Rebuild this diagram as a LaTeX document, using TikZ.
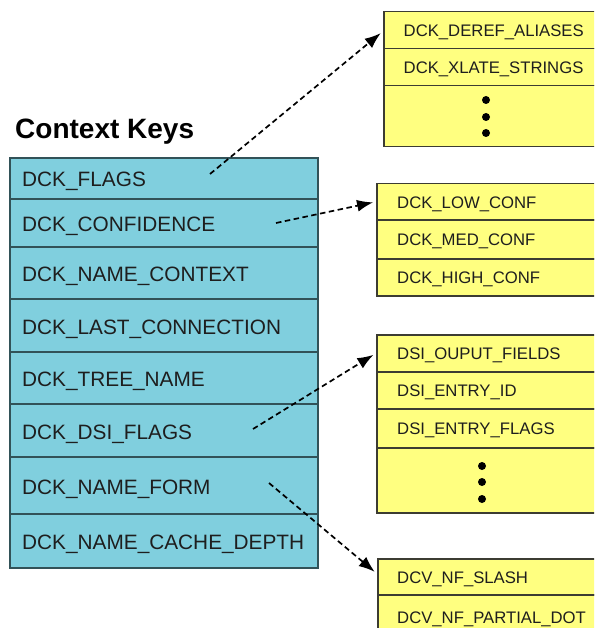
\documentclass[tikz,border=0pt]{standalone}
\usepackage{fontspec}
\setmainfont{Liberation Sans}
\usetikzlibrary{arrows.meta}
\definecolor{cyanfill}{RGB}{128,207,222}
\definecolor{cyanline}{RGB}{50,82,88}
\definecolor{yellowfill}{RGB}{255,255,128}
\definecolor{yline}{RGB}{60,60,50}
\definecolor{txt}{RGB}{30,30,30}
\begin{document}
\begin{tikzpicture}[x=1pt,y=-1pt,
  lrow/.style={draw=cyanline,line width=2.2pt,fill=cyanfill,anchor=north west,
    inner sep=0pt,minimum width=308pt},
  rrow/.style={draw=yline,line width=1.5pt,fill=yellowfill,anchor=north west,
    inner sep=0pt,minimum width=260pt},
  ltext/.style={anchor=base west,inner sep=0pt,text=txt,font=\fontsize{20.8}{24}\selectfont},
  rtext/.style={anchor=base west,inner sep=0pt,text=txt,font=\fontsize{16.7}{20}\selectfont},
  link/.style={line width=1.7pt,dash pattern=on 5.5pt off 3.5pt,
    -{Latex[length=16pt,width=12pt]},shorten >=3pt},
  dotc/.style={fill=black}
]
\useasboundingbox (0,0) rectangle (594,628);
\clip (0,0) rectangle (594,628);

\node[anchor=base west,inner sep=0pt,font=\bfseries\fontsize{28}{30}\selectfont] (title) at (15,139) {Context Keys};

% left table
\node[lrow,minimum height=41pt] (k1) at (9,157) {};
\node[lrow,minimum height=48pt] (k2) at (9,198) {};
\node[lrow,minimum height=52pt] (k3) at (9,246) {};
\node[lrow,minimum height=53pt] (k4) at (9,298) {};
\node[lrow,minimum height=52pt] (k5) at (9,351) {};
\node[lrow,minimum height=53pt] (k6) at (9,403) {};
\node[lrow,minimum height=57pt] (k7) at (9,456) {};
\node[lrow,minimum height=54pt] (k8) at (9,513) {};
\node[ltext] (t1) at ([xshift=13pt,yshift=-7.8pt]k1.west) {DCK\_FLAGS};
\node[ltext] (t2) at ([xshift=13pt,yshift=-8.6pt]k2.west) {DCK\_CONFIDENCE};
\node[ltext] (t3) at ([xshift=13pt,yshift=-8.6pt]k3.west) {DCK\_NAME\_CONTEXT};
\node[ltext] (t4) at ([xshift=13pt,yshift=-9pt]k4.west) {DCK\_LAST\_CONNECTION};
\node[ltext] (t5) at ([xshift=13pt,yshift=-8.6pt]k5.west) {DCK\_TREE\_NAME};
\node[ltext] (t6) at ([xshift=13pt,yshift=-8.6pt]k6.west) {DCK\_DSI\_FLAGS};
\node[ltext] (t7) at ([xshift=13pt,yshift=-8.6pt]k7.west) {DCK\_NAME\_FORM};
\node[ltext] (t8) at ([xshift=13pt,yshift=-8.6pt]k8.west) {DCK\_NAME\_CACHE\_DEPTH};

% table 1
\node[rrow,minimum height=37pt] (a1) at (383,11) {};
\node[rrow,minimum height=37pt] (a2) at (383,48) {};
\node[rrow,minimum height=61pt] (a3) at (383,85) {};
\node[rtext] (ta1) at ([xshift=20.5pt,yshift=-6.5pt]a1.west) {DCK\_DEREF\_ALIASES};
\node[rtext] (ta2) at ([xshift=20.5pt,yshift=-6.5pt]a2.west) {DCK\_XLATE\_STRINGS};
\fill[dotc] (486,100) circle (4pt) (486,117) circle (4pt) (486,133) circle (4pt);

% table 2
\node[rrow,minimum height=36pt] (b1) at (376,183) {};
\node[rrow,minimum height=39pt] (b2) at (376,219) {};
\node[rrow,minimum height=37pt] (b3) at (376,258) {};
\node[rtext] (tb1) at ([xshift=21pt,yshift=-6.3pt]b1.west) {DCK\_LOW\_CONF};
\node[rtext] (tb2) at ([xshift=21pt,yshift=-6.3pt]b2.west) {DCK\_MED\_CONF};
\node[rtext] (tb3) at ([xshift=21pt,yshift=-6.3pt]b3.west) {DCK\_HIGH\_CONF};

% table 3
\node[rrow,minimum height=37pt] (c1) at (376,334) {};
\node[rrow,minimum height=37pt] (c2) at (376,371) {};
\node[rrow,minimum height=39pt] (c3) at (376,408) {};
\node[rrow,minimum height=65pt] (c4) at (376,447) {};
\node[rtext] (tc1) at ([xshift=21pt,yshift=-6.3pt]c1.west) {DSI\_OUPUT\_FIELDS};
\node[rtext] (tc2) at ([xshift=21pt,yshift=-6.3pt]c2.west) {DSI\_ENTRY\_ID};
\node[rtext] (tc3) at ([xshift=21pt,yshift=-6.3pt]c3.west) {DSI\_ENTRY\_FLAGS};
\fill[dotc] (482,466) circle (4pt) (482,482) circle (4pt) (482,499) circle (4pt);

% table 4
\node[rrow,minimum height=36pt] (d1) at (377,558) {};
\node[rrow,minimum height=40pt] (d2) at (377,594) {};
\node[rtext] (td1) at ([xshift=20pt,yshift=-6.8pt]d1.west) {DCV\_NF\_SLASH};
\node[rtext] (td2) at (397,623) {DCV\_NF\_PARTIAL\_DOT};

% connector start points
\coordinate (s1) at (210,174);
\coordinate (s2) at (276,223);
\coordinate (s3) at (253,429);
\coordinate (s4) at (269,483);

\draw[link] (s1) -- ([yshift=-1pt]a1.west);
\draw[link] (s2) -- (b1.west);
\draw[link] (s3) -- (c1.west);
\draw[link] (s4) -- ([yshift=3pt]d1.west);
\end{tikzpicture}
\end{document}
